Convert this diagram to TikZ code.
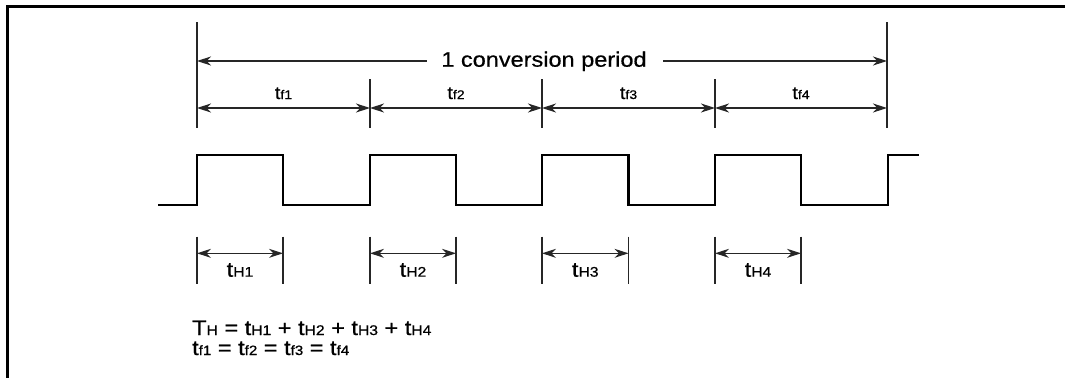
\documentclass[tikz,border=0pt]{standalone}
\usepackage{fontspec}
\setmainfont{Liberation Sans}[FakeStretch=1.12,FakeBold=0.6]
\usetikzlibrary{arrows.meta,calc}
\newcommand\mytxt[2]{{\fontsize{#1}{#1}\selectfont #2}}
\begin{document}
\begin{tikzpicture}[x=1pt,y=-1pt,
  frame/.style={line width=2.5pt},
  tick/.style={line width=1.1pt, black!85},
  tip/.tip={Stealth[length=14pt,width=9pt,inset=4.5pt]},
  dim/.style={line width=1.2pt, black!85, tip-tip},
  onearrow/.style={line width=1.2pt, black!85, -tip},
  pulse/.style={line width=2.5pt},
  lab/.style={inner sep=0pt, anchor=base}]
\useasboundingbox (0,0) rectangle (1065,378);
% frame
\coordinate (fr1) at (1065,6.5);
\coordinate (fr2) at (7.3,6.5);
\coordinate (fr3) at (7.3,378);
\draw[frame] (fr1) -- (fr2) -- (fr3);
% boundaries of the periods
\foreach \i/\x in {0/197,1/370,2/542,3/715,4/887}{
  \coordinate (b\i) at (\x,108);
  \coordinate (bb\i) at (\x,128);
}
\coordinate (bt0) at (197,22);
\coordinate (bt4) at (887,22);
\foreach \i/\x in {1/370,2/542,3/715}{
  \coordinate (bt\i) at (\x,79);
}
\foreach \i in {0,...,4}{ \draw[tick] (bt\i) -- (bb\i); }
% one conversion period
\node[lab] (title) at (544,66.7) {\mytxt{21}{1 conversion period}};
\coordinate (tl) at (426.7,61);
\coordinate (tr) at (663,61);
\coordinate (pl) at (197,61);
\coordinate (pr) at (887,61);
\draw[onearrow] (tl) -- (pl);
\draw[onearrow] (tr) -- (pr);
% tf intervals
\draw[dim] (b0) -- (b1);
\draw[dim] (b1) -- (b2);
\draw[dim] (b2) -- (b3);
\draw[dim] (b3) -- (b4);
\node[lab] (tf1) at (283.5,99) {\mytxt{18}{t}\mytxt{12.5}{f1}};
\node[lab] (tf2) at (456,99) {\mytxt{18}{t}\mytxt{12.5}{f2}};
\node[lab] (tf3) at (628.5,99) {\mytxt{18}{t}\mytxt{12.5}{f3}};
\node[lab] (tf4) at (801,99) {\mytxt{18}{t}\mytxt{12.5}{f4}};
% pulse train
\draw[pulse] (158,205) -- (197,205) -- (197,155) -- (283,155) -- (283,205)
  -- (370,205) -- (370,155) -- (456,155) -- (456,205)
  -- (542,205) -- (542,155) -- (628.5,155) -- (628.5,205)
  -- (715,205) -- (715,155) -- (801,155) -- (801,205)
  -- (888,205) -- (888,155) -- (919,155);
% tH intervals
\foreach \i/\a/\b in {1/197/283,2/370/456,3/542/628.5,4/715/801}{
  \coordinate (ha\i) at (\a,253.3);
  \coordinate (hb\i) at (\b,253.3);
  \coordinate (hat\i) at (\a,236.5);
  \coordinate (hab\i) at (\a,283.5);
  \coordinate (hbt\i) at (\b,236.5);
  \coordinate (hbb\i) at (\b,283.5);
  \draw[tick] (hat\i) -- (hab\i);
  \draw[tick] (hbt\i) -- (hbb\i);
  \draw[dim] (ha\i) -- (hb\i);
  \node[lab] (th\i) at ($(ha\i)!0.5!(hb\i)+(0,23.4)$) {\mytxt{21}{t}\mytxt{14}{H\i}};
}
% formulas
\node[inner sep=0pt, anchor=base west] (eq1) at (192,335)
  {\mytxt{21}{T}\mytxt{14}{H}\mytxt{21}{~= t}\mytxt{14}{H1}\mytxt{21}{~+ t}\mytxt{14}{H2}\mytxt{21}{~+ t}\mytxt{14}{H3}\mytxt{21}{~+ t}\mytxt{14}{H4}};
\node[inner sep=0pt, anchor=base west] (eq2) at (192,355)
  {\mytxt{21}{t}\mytxt{13.5}{f1}\mytxt{21}{~= t}\mytxt{13.5}{f2}\mytxt{21}{~= t}\mytxt{13.5}{f3}\mytxt{21}{~= t}\mytxt{13.5}{f4}};
\end{tikzpicture}
\end{document}
